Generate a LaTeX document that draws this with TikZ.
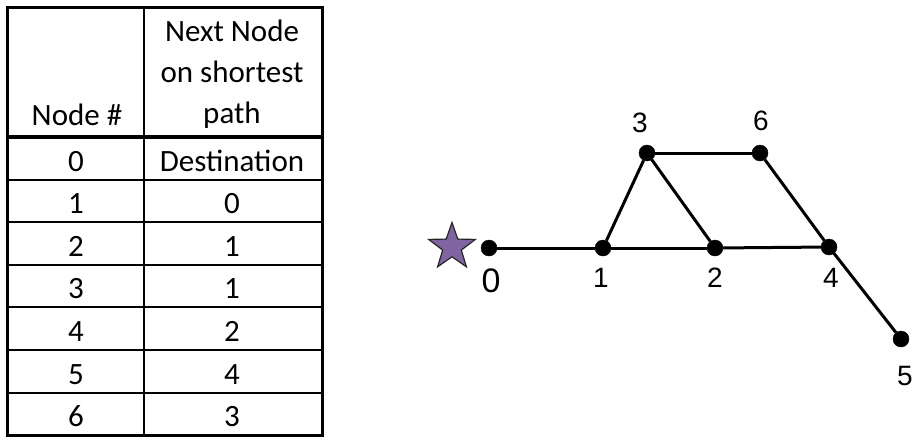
\documentclass[tikz,border=0pt]{standalone}
\usepackage{fontspec}
\setmainfont{Carlito}
\newfontfamily\arialfont{Liberation Sans}
\usetikzlibrary{shapes.geometric,
                positioning}
\definecolor{starpurple}{HTML}{8064A2}

\tikzset{
    vertex/.style = {draw, circle, fill=black, minimum size=16pt, inner sep=0pt},
    edge/.style   = {line width=3pt},
    vlabel/.style = {anchor=base, inner sep=0pt, font=\arialfont\fontsize{28}{32}\selectfont},
    cell/.style   = {anchor=base, inner sep=0pt, font=\fontsize{31}{37}\selectfont},
    rule/.style   = {line width=2pt}
}

\begin{document}
\begin{tikzpicture}[x=1pt, y=-1pt]
\useasboundingbox (0,0) rectangle (923,442);
%%% table
\draw[line width=3pt] (7,7) rectangle (322,435);
\draw[rule] (144,7) -- (144,435);
\draw[line width=3.5pt] (7,137) -- (322,137);
\foreach \k in {1,...,6} {
    \pgfmathsetmacro{\ypos}{137 + 42.6*\k}
    \draw[rule] (7,\ypos) -- (322,\ypos);
}
\node (hnode) [cell] at (77,125) {Node \#};
\node (hnext1) [cell] at (232,41) {Next Node};
\node (hnext2) [cell] at (232,82) {on shortest};
\node (hnext3) [cell] at (232,123) {path};
\foreach \n/\hop in {0/Destination,1/0,2/1,3/1,4/2,5/4,6/3} {
    \pgfmathsetmacro{\ybase}{171 + 42.6*\n}
    \node (num\n) [cell] at (76,\ybase) {\n};
    \node (hop\n) [cell] at (232,\ybase) {\hop};
}
%%% graph
\node (dest) [star, star points=5, star point ratio=2.5, minimum size=49pt, inner sep=0pt,
              draw=black!85, line width=1.2pt, fill=starpurple] at (452,247) {};
\node (n0) [vertex] at (489,248) {};
\node (n1) [vertex] at (603,248) {};
\node (n2) [vertex] at (715,248) {};
\node (n4) [vertex] at (829,247) {};
\node (n3) [vertex] at (647,153) {};
\node (n6) [vertex] at (760,153) {};
\node (n5) [vertex] at (901,339) {};
\foreach \a/\b in {0/1,1/2,2/4,1/3,3/2,3/6,6/4,4/5} {
    \draw[edge] (n\a) -- (n\b);
}
\node (l0) [vlabel, font=\arialfont\fontsize{34}{38}\selectfont] at (491,292) {0};
\node (l1) [vlabel] at (601,287) {1};
\node (l2) [vlabel] at (715,287) {2};
\node (l4) [vlabel] at (831,287) {4};
\node (l3) [vlabel] at (640,132) {3};
\node (l6) [vlabel] at (761,130) {6};
\node (l5) [vlabel] at (905,385) {5};
\end{tikzpicture}
\end{document}
